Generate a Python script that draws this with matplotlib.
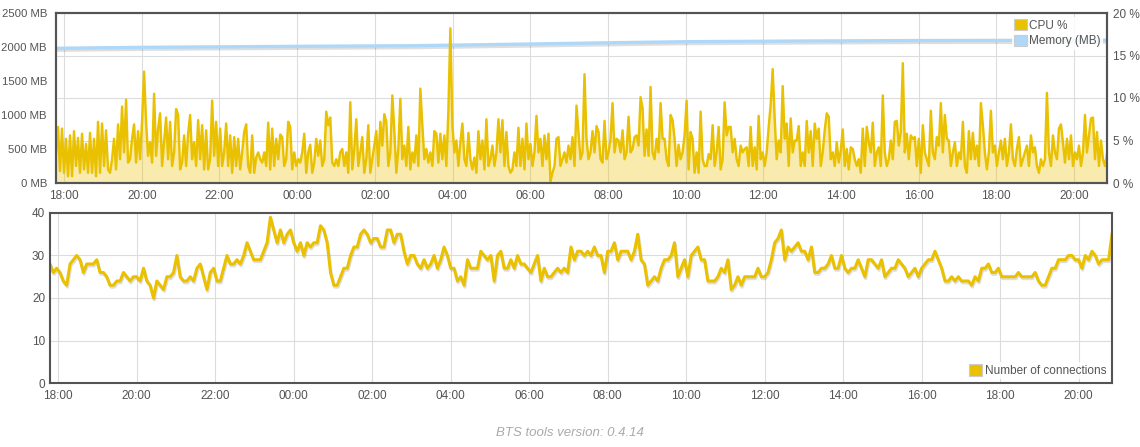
import matplotlib
matplotlib.use("Agg")
import matplotlib.pyplot as plt
import matplotlib.dates as mdates
import matplotlib.patheffects as pe
from matplotlib.patches import Patch
import pandas as pd

plt.rcParams['font.family'] = ['Liberation Sans', 'DejaVu Sans']

# time span shown on both charts
t_start = "2014-06-01 17:47:30"
t_end = "2014-06-02 20:51:00"

# CPU load in % in five consecutive stretches
cpu_1 = [3.5, 6.6, 1.4, 6.4, 1.2, 5.2, 0.8, 5.6, 0.8, 6.1,
         2.0, 5.3, 1.2, 5.8, 1.6, 4.6, 1.2, 5.9, 1.2, 5.2,
         0.8, 7.2, 1.2, 7.0, 2.0, 6.2, 1.6, 1.2, 2.8, 5.2,
         1.6, 6.9, 2.8, 9.0, 3.6, 9.8, 2.4, 2.8, 5.2, 6.9,
         2.4, 6.1, 2.8, 7.3, 13.1, 7.2, 3.2, 4.8, 2.4, 10.5,
         3.2, 6.4, 8.2, 2.0, 4.8, 7.7, 2.8, 7.2, 2.0, 3.6,
         8.7, 8.0, 1.6, 2.4, 5.6, 2.0, 5.8, 8.0, 2.8, 4.8,
         2.0, 7.4, 2.8, 6.8, 1.6, 6.2, 1.6, 2.8, 9.7, 3.2,
         7.2, 2.0, 6.4, 2.0, 3.6, 7.0, 2.0, 5.6, 1.2, 5.4,
         2.0, 5.2, 1.6, 3.6, 6.0, 6.9, 2.0, 1.2, 5.6, 1.2,
         3.0, 3.6]
cpu_2 = [2.8, 2.4, 3.6, 2.0, 7.1, 1.6, 6.4, 2.0, 5.2, 2.8,
         5.7, 5.4, 2.0, 2.8, 7.2, 6.6, 1.6, 3.6, 2.0, 2.8,
         2.4, 3.6, 5.8, 1.2, 3.6, 4.5, 1.2, 2.4, 5.2, 3.2,
         5.0, 2.0, 2.8, 8.4, 6.8, 7.7, 2.4, 2.0, 2.8, 2.0,
         3.6, 4.0, 2.0, 3.6, 1.2, 9.5, 1.6, 4.0, 7.5, 2.0,
         3.6, 5.4, 1.2, 2.8, 6.8, 1.2, 2.8, 4.4, 6.1, 2.0,
         7.2, 4.4, 8.1, 7.2, 2.0, 3.6, 10.3, 6.1, 1.2, 4.0,
         9.9, 2.8, 4.4, 2.0, 6.6, 1.6, 3.6, 2.4, 5.6, 2.0,
         11.1, 6.8, 2.8, 4.0, 2.4, 3.6, 2.0, 6.1, 5.8, 2.4,
         5.8, 2.8, 5.6, 2.0, 8.5, 18.2, 6.8, 3.6, 5.0, 2.0,
         4.8, 7.0, 2.8, 2.0, 5.9]
cpu_3 = [2.8, 1.6, 3.0, 1.2, 6.1, 2.8, 5.0, 1.6, 7.5, 2.0,
         2.8, 4.4, 2.0, 3.6, 7.5, 3.6, 7.4, 2.0, 6.0, 2.0,
         1.2, 1.6, 3.6, 2.0, 6.5, 2.0, 5.2, 1.6, 7.0, 2.8,
         4.6, 2.0, 3.6, 7.9, 3.6, 5.2, 2.0, 5.6, 2.8, 5.8,
         0.2, 1.2, 2.0, 5.2, 5.4, 2.0, 2.8, 3.6, 2.4, 4.4,
         2.8, 5.4, 2.0, 9.1, 6.0, 2.8, 3.6, 12.8, 5.2, 2.8,
         3.6, 6.1, 3.6, 6.7, 6.0, 2.8, 2.4, 7.3, 2.8, 3.6,
         5.2, 9.4, 3.6, 5.2, 5.0, 3.6, 6.2, 2.8, 3.6, 7.8,
         3.6, 4.0, 5.4, 5.6, 4.4, 10.1, 8.8, 3.2, 6.3, 3.2,
         11.3, 3.6, 2.8, 5.2, 3.6, 9.4, 5.2, 5.2, 2.8, 2.0,
         8.0, 7.4, 5.2, 2.0, 4.5]
cpu_4 = [2.8, 3.6, 5.6, 9.7, 1.6, 6.0, 5.2, 1.2, 3.6, 1.2,
         8.4, 2.8, 2.0, 2.0, 3.4, 2.8, 6.8, 2.0, 3.6, 6.6,
         1.6, 2.8, 9.5, 5.6, 6.6, 6.6, 3.6, 5.2, 2.8, 2.0,
         4.4, 3.6, 4.0, 4.2, 2.0, 6.6, 2.0, 4.2, 1.6, 7.9,
         2.8, 3.6, 2.0, 3.6, 6.6, 9.2, 13.4, 7.6, 2.8, 5.0,
         3.6, 11.4, 5.2, 7.0, 2.0, 7.6, 3.6, 5.0, 5.0, 6.7,
         2.0, 3.6, 2.0, 7.3, 3.6, 6.1, 2.0, 7.0, 5.2, 6.4,
         2.0, 3.6, 6.2, 8.2, 7.8, 2.8, 3.6, 2.0, 4.8, 2.4,
         3.8, 6.3, 2.0, 4.0, 1.6, 4.2, 4.0, 2.8, 2.0, 2.8,
         1.2, 6.4, 2.0, 6.6, 4.8, 3.6, 7.1, 2.0, 3.6, 4.2,
         2.0, 10.3, 3.6, 2.0, 2.8]
cpu_5 = [5.0, 2.8, 7.2, 7.3, 4.4, 6.0, 14.1, 3.6, 5.8, 2.8,
         5.6, 5.2, 5.4, 2.0, 5.2, 1.2, 6.8, 3.6, 2.8, 2.0,
         8.5, 3.6, 2.8, 5.4, 4.4, 9.4, 3.6, 8.0, 5.2, 5.0,
         2.0, 3.6, 4.8, 2.0, 3.6, 2.8, 7.2, 2.0, 1.2, 6.1,
         2.8, 5.9, 2.8, 4.4, 2.0, 9.4, 6.8, 3.6, 1.6, 3.6,
         8.5, 3.6, 4.4, 2.0, 3.6, 5.0, 2.8, 5.2, 2.0, 3.6,
         6.9, 2.8, 2.0, 4.0, 5.4, 2.0, 2.8, 3.6, 4.4, 2.0,
         5.6, 3.6, 4.2, 2.0, 1.2, 2.8, 2.0, 2.8, 10.6, 3.6,
         2.0, 5.6, 3.6, 2.8, 6.4, 6.9, 4.8, 2.4, 5.2, 2.8,
         5.6, 2.0, 3.6, 2.8, 4.4, 2.0, 3.6, 8.0, 3.6, 5.6,
         7.6, 7.7, 2.8, 6.0, 2.0, 5.0, 2.8, 2.0, 3.4]

# memory usage (MB) at a few points in time
mem_times = ["2014-06-01 17:47", "2014-06-01 20:00", "2014-06-02 00:00",
             "2014-06-02 03:00", "2014-06-02 06:00", "2014-06-02 08:00",
             "2014-06-02 10:00", "2014-06-02 13:00", "2014-06-02 16:00",
             "2014-06-02 20:51"]
mem_mb = [1981, 1995, 2010, 2019, 2044, 2062, 2078, 2088, 2095, 2100]

# number of connections, three consecutive stretches
conn_1 = [28, 26, 27, 26, 24, 23, 28, 29, 30, 29,
          26, 28, 28, 28, 29, 26, 26, 25, 23, 23,
          24, 24, 26, 25, 24, 25, 25, 24, 27, 24,
          23, 20, 24, 23, 22, 25, 25, 26, 30, 25,
          24, 24, 25, 24, 27, 28, 25, 22, 26, 27,
          24, 24, 27, 30, 28, 28, 29, 28, 30, 33,
          31, 29, 29, 29, 31, 33, 39, 36, 33, 36,
          33, 35, 36, 33, 31, 33, 30, 33, 32, 33,
          33, 37, 36, 33, 26, 23, 23, 25, 27, 27,
          30, 32, 32, 35, 36, 35, 33, 34, 34]
conn_2 = [32, 32, 36, 36, 33, 35, 35, 31, 28, 30,
          30, 28, 27, 29, 27, 28, 30, 27, 29, 32,
          30, 27, 27, 24, 25, 23, 29, 27, 27, 27,
          31, 30, 29, 30, 24, 30, 31, 27, 27, 29,
          27, 30, 28, 28, 27, 26, 28, 30, 24, 27,
          25, 25, 26, 27, 26, 27, 26, 32, 29, 31,
          31, 30, 31, 30, 32, 30, 30, 26, 31, 31,
          33, 29, 31, 31, 31, 29, 31, 35, 29, 28,
          23, 24, 25, 24, 27, 29, 29, 30, 33, 25,
          27, 29, 25, 30, 31, 32, 29, 29, 24, 24,
          24, 25, 27, 26, 29, 22, 23, 25, 23, 25,
          25]
conn_3 = [25, 25, 27, 25, 25, 26, 29, 33, 34, 36,
          29, 32, 31, 32, 33, 31, 31, 29, 32, 26,
          26, 27, 27, 28, 30, 27, 27, 30, 27, 26,
          27, 27, 29, 27, 25, 29, 29, 28, 27, 29,
          25, 26, 27, 27, 29, 28, 27, 25, 26, 27,
          25, 27, 28, 29, 29, 31, 29, 27, 24, 24,
          25, 24, 25, 24, 24, 24, 23, 25, 24, 27,
          27, 28, 26, 26, 27, 25, 25, 25, 25, 25,
          26, 25, 25, 25, 25, 26, 24, 23, 23, 25,
          27, 27, 29, 29, 29, 30, 30, 29, 29, 27,
          30, 29, 31, 30, 28, 29, 29, 29, 35]

mem_ticks = [0, 500, 1000, 1500, 2000, 2500]
cpu_ticks = [0, 5, 10, 15, 20]
conn_ticks = [0, 10, 20, 30, 40]

yellow = '#eac100'
blue = '#afd8f8'
text_c = '#545454'
grid_c = '#dcdcdc'

cpu = cpu_1 + cpu_2 + cpu_3 + cpu_4 + cpu_5
conn = conn_1 + conn_2 + conn_3
cpu_t = pd.date_range(t_start, t_end, periods=len(cpu))
conn_t = pd.date_range(t_start, t_end, periods=len(conn))
mem_t = pd.to_datetime(mem_times)

W, H = 1140, 447
fig = plt.figure(figsize=(W / 100, H / 100), dpi=100)
ax_mem = fig.add_axes([56 / W, 1 - 183 / H, 1051 / W, 170 / H])
ax_cpu = ax_mem.twinx()
ax_con = fig.add_axes([50 / W, 1 - 383 / H, 1062 / W, 170 / H])

shadow = [pe.SimpleLineShadow(offset=(0.6, -1.4), shadow_color='black', alpha=0.13),
          pe.Normal()]

# top chart: memory on the left scale, cpu on the right one
ax_mem.plot(mem_t, mem_mb, color=blue, lw=2.4, path_effects=shadow)
ax_mem.set_ylim(0, 2500)
ax_mem.set_yticks(mem_ticks)
ax_mem.set_yticklabels([f"{v} MB" for v in mem_ticks])
ax_mem.xaxis.grid(True, color=grid_c, lw=0.8)
ax_mem.set_axisbelow(True)

ax_cpu.fill_between(cpu_t, cpu, 0, color=yellow, alpha=0.32, lw=0)
ax_cpu.plot(cpu_t, cpu, color=yellow, lw=1.75)
ax_cpu.set_ylim(0, 20)
ax_cpu.set_yticks(cpu_ticks)
ax_cpu.set_yticklabels([f"{v} %" for v in cpu_ticks])
ax_cpu.yaxis.grid(True, color=grid_c, lw=0.8)
ax_cpu.set_axisbelow(True)

ax_cpu.legend([Patch(facecolor=yellow, edgecolor='#cccccc', lw=0.8),
               Patch(facecolor=blue, edgecolor='#cccccc', lw=0.8)],
              ["CPU %", "Memory (MB)"], loc='upper right', fontsize=8.5,
              frameon=True, facecolor='white', edgecolor='none', framealpha=0.85,
              fancybox=False, handlelength=1.1, handleheight=1.1,
              handletextpad=0.2, labelspacing=0.25, borderpad=0.2,
              borderaxespad=0.3, labelcolor=text_c)

# bottom chart: connections
ax_con.plot(conn_t, conn, color=yellow, lw=2.2, path_effects=shadow)
ax_con.set_ylim(0, 40)
ax_con.set_yticks(conn_ticks)
ax_con.grid(True, color=grid_c, lw=0.8)
ax_con.set_axisbelow(True)
ax_con.legend([Patch(facecolor=yellow, edgecolor='#cccccc', lw=0.8)],
              ["Number of connections"], loc='lower right', fontsize=8.5,
              frameon=True, facecolor='white', edgecolor='none', framealpha=0.85,
              fancybox=False, handlelength=1.1, handleheight=1.1,
              handletextpad=0.2, borderpad=0.2, borderaxespad=0.3,
              labelcolor=text_c)

for ax in (ax_mem, ax_cpu, ax_con):
    ax.set_xlim(pd.Timestamp(t_start), pd.Timestamp(t_end))
    ax.xaxis.set_major_locator(mdates.HourLocator(byhour=range(0, 24, 2)))
    ax.xaxis.set_major_formatter(mdates.DateFormatter('%H:%M'))
    ax.tick_params(length=0, labelsize=8.5, labelcolor=text_c)
    ax.tick_params(axis='x', pad=5)
    for s in ax.spines.values():
        s.set_color(text_c)
        s.set_linewidth(1.5)

ax_mem.tick_params(axis='y', pad=6.5, labelsize=8.2)
ax_cpu.tick_params(axis='y', pad=4.5)
ax_con.tick_params(axis='y', pad=3.5)

fig.text(0.5, 1 - 433 / H, "BTS tools version: 0.4.14", ha='center', va='center',
         style='italic', color='#aaaaaa', fontsize=9.5)

fig.savefig("out.png", dpi=100)
